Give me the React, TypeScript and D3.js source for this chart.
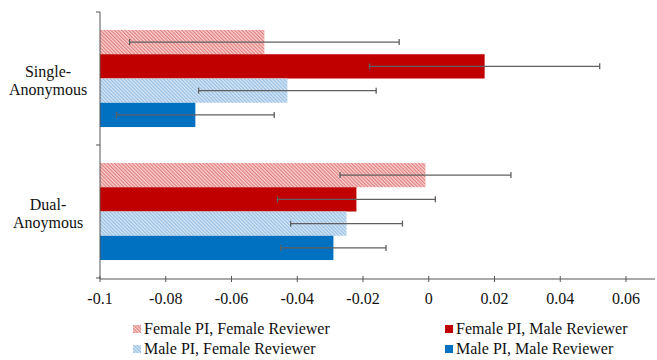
import * as d3 from 'd3';

// categories (top to bottom) and their two-line labels
const categories = ['Single-Anonymous', 'Dual-Anoymous'];
const categoryLines = [
  ['Single-', 'Anonymous'],
  ['Dual-', 'Anoymous'],
];

const seriesNames = [
  'Female PI, Female Reviewer',
  'Female PI, Male Reviewer',
  'Male PI, Female Reviewer',
  'Male PI, Male Reviewer',
];

// bar values per category
const ffValues = [-0.05, -0.001];
const fmValues = [0.017, -0.022];
const mfValues = [-0.043, -0.025];
const mmValues = [-0.071, -0.029];

// half-width of error bars
const ffErr = [0.041, 0.026];
const fmErr = [0.035, 0.024];
const mfErr = [0.027, 0.017];
const mmErr = [0.024, 0.016];

const xTicks = [-0.1, -0.08, -0.06, -0.04, -0.02, 0, 0.02, 0.04, 0.06];
const xTickLabels = ['-0.1', '-0.08', '-0.06', '-0.04', '-0.02', '0', '0.02', '0.04', '0.06'];

const seriesValues = [ffValues, fmValues, mfValues, mmValues];
const seriesErr = [ffErr, fmErr, mfErr, mmErr];
const fills = ['url(#hatchRed)', '#c00000', 'url(#hatchBlue)', '#0070c0'];

const width = 657;
const height = 360;
const font = '"Liberation Serif", "Times New Roman", serif';

export default function App() {
  const x = d3.scaleLinear().domain([-0.1, 0.06]).range([100, 626]);
  const y0 = d3.scaleBand().domain(categories).range([12, 278]);
  const y1 = d3
    .scaleBand()
    .domain(seriesNames)
    .range([0, y0.bandwidth()])
    .paddingOuter(0.74);

  const axisY = 279;
  const base = x(-0.1);

  const legendPos = [
    { x: 133, y: 329 },
    { x: 445, y: 329 },
    { x: 133, y: 349 },
    { x: 445, y: 349 },
  ];

  return (
    <svg
      width={width}
      height={height}
      style={{ position: 'absolute', left: 0, top: 0, background: '#fff' }}
      fontFamily={font}
    >
      <defs>
        <pattern id="hatchRed" patternUnits="userSpaceOnUse" width={2.5} height={2.5} patternTransform="rotate(-45)">
          <rect width={2.5} height={2.5} fill="#f6d2d2" />
          <line x1={0.6} y1={0} x2={0.6} y2={2.5} stroke="#e27878" strokeWidth={1.1} />
        </pattern>
        <pattern id="hatchBlue" patternUnits="userSpaceOnUse" width={2.5} height={2.5} patternTransform="rotate(-45)">
          <rect width={2.5} height={2.5} fill="#d6e6f4" />
          <line x1={0.6} y1={0} x2={0.6} y2={2.5} stroke="#92bde3" strokeWidth={1.1} />
        </pattern>
      </defs>

      {/* bars */}
      {categories.map((cat, ci) => (
        <g key={cat} transform={`translate(0,${y0(cat)})`}>
          {seriesNames.map((s, si) => {
            const v = seriesValues[si][ci];
            return (
              <rect
                key={s}
                x={base}
                y={y1(s)}
                width={x(v) - base}
                height={y1.bandwidth()}
                fill={fills[si]}
              />
            );
          })}
        </g>
      ))}

      {/* error bars */}
      {categories.map((cat, ci) => (
        <g key={cat + '-err'} transform={`translate(0,${y0(cat)})`} stroke="#5f5f5f" strokeWidth={1.3}>
          {seriesNames.map((s, si) => {
            const v = seriesValues[si][ci];
            const e = seriesErr[si][ci];
            const cy = (y1(s) || 0) + y1.bandwidth() / 2;
            return (
              <g key={s}>
                <line x1={x(v - e)} x2={x(v + e)} y1={cy} y2={cy} />
                <line x1={x(v - e)} x2={x(v - e)} y1={cy - 3} y2={cy + 3} />
                <line x1={x(v + e)} x2={x(v + e)} y1={cy - 3} y2={cy + 3} />
              </g>
            );
          })}
        </g>
      ))}

      {/* y axis */}
      <g stroke="#555" strokeWidth={1}>
        <line x1={base} x2={base} y1={12} y2={axisY} />
        {[12, (y0(categories[1]) || 0), axisY - 1].map((ty, i) => (
          <line key={i} x1={base - 4} x2={base} y1={ty} y2={ty} />
        ))}
      </g>

      {/* x axis */}
      <g stroke="#555" strokeWidth={1}>
        <line x1={base} x2={655} y1={axisY} y2={axisY} />
        {xTicks.map((t) => (
          <line key={t} x1={x(t)} x2={x(t)} y1={axisY - 3} y2={axisY + 3} />
        ))}
      </g>
      {xTicks.map((t, i) => (
        <text key={t} x={x(t)} y={304} textAnchor="middle" fontSize={16} fill="#111">
          {xTickLabels[i]}
        </text>
      ))}

      {/* category labels */}
      {categories.map((cat, ci) => {
        const cy = (y0(cat) || 0) + y0.bandwidth() / 2;
        return (
          <text key={cat} x={48} textAnchor="middle" fontSize={16} fill="#111">
            <tspan x={48} y={cy - 2}>{categoryLines[ci][0]}</tspan>
            <tspan x={48} y={cy + 16}>{categoryLines[ci][1]}</tspan>
          </text>
        );
      })}

      {/* legend */}
      {seriesNames.map((s, si) => (
        <g key={s} transform={`translate(${legendPos[si].x},${legendPos[si].y})`}>
          <rect x={0} y={-4} width={8} height={8} fill={fills[si]} />
          <text x={11} y={5} fontSize={16} fill="#111">
            {s}
          </text>
        </g>
      ))}
    </svg>
  );
}
